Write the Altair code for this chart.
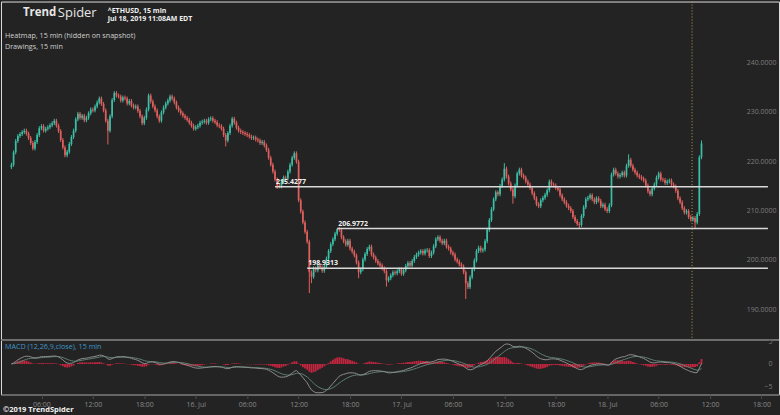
import altair as alt
import pandas as pd

# ---------------- data ----------------
first_hour = 2.5          # hours after 15 Jul 00:00 (EDT) of the first 15-min candle
step_hours = 0.25
first_open = 219.4
closes = [
    219.9, 222.4, 224.7, 225.7, 226.1, 226.5, 226.8, 226.2, 225.3, 224.3,
    223.2, 224.5, 225.9, 227.3, 227.7, 226.8, 227.2, 227.5, 227.9, 228.3,
    228.8, 227.8, 226.7, 224.9, 223.4, 221.8, 222.5, 224.1, 225.5, 226.8,
    229.1, 230.2, 229.4, 229.8, 228.9, 229.4, 230.3, 231.1, 230.9, 231.7,
    232.5, 233.3, 232.2, 230.9, 228.8, 226.8, 229.7, 233.0, 234.4, 233.9,
    233.7, 232.9, 233.5, 233.3, 232.3, 232.8, 231.9, 231.5, 231.7, 230.8,
    229.7, 228.3, 229.4, 231.1, 233.9, 232.7, 231.7, 230.9, 229.7, 228.8,
    230.5, 231.5, 232.3, 232.9, 233.7, 233.3, 232.5, 231.5, 230.9, 230.3,
    229.8, 229.4, 229.0, 228.4, 227.8, 227.2, 227.5, 227.8, 228.4, 228.6,
    228.8, 228.4, 229.1, 229.3, 228.8, 228.5, 227.9, 227.7, 227.2, 225.9,
    224.8, 226.3, 227.8, 229.2, 228.4, 227.4, 226.8, 226.5, 226.3, 226.1,
    225.9, 225.6, 225.3, 225.4, 225.0, 224.8, 224.3, 224.5, 223.8, 222.9,
    221.3, 219.9, 218.5, 216.9, 215.7, 215.5, 216.4, 217.3, 217.1, 218.5,
    219.9, 221.3, 222.2, 220.5, 212.7, 210.4, 208.2, 206.3, 204.3, 198.1,
    197.2, 198.9, 198.5, 199.5, 199.1, 198.4, 199.3, 200.9, 202.4, 203.8,
    204.8, 205.9, 206.9, 206.7, 205.2, 204.4, 203.7, 204.5, 202.9, 202.3,
    201.5, 200.1, 198.1, 198.7, 200.7, 201.8, 202.8, 203.3, 201.7, 201.1,
    200.4, 199.9, 199.5, 198.9, 198.3, 196.5, 196.9, 197.5, 198.1, 197.9,
    198.3, 198.7, 197.8, 198.5, 199.4, 200.0, 199.5, 200.4, 201.2, 201.7,
    202.1, 202.4, 201.9, 202.5, 202.6, 201.4, 202.1, 203.4, 204.8, 205.2,
    204.5, 204.0, 204.5, 203.3, 202.9, 202.1, 201.7, 200.7, 200.3, 199.7,
    199.3, 198.1, 195.9, 195.1, 197.1, 198.7, 200.5, 202.4, 203.1, 202.5,
    202.7, 204.4, 206.7, 208.7, 210.9, 212.9, 214.3, 213.9, 215.6, 216.9,
    219.1, 217.5, 216.1, 214.9, 213.5, 215.7, 218.1, 218.9, 217.7, 217.3,
    216.5, 215.9, 215.2, 214.1, 213.1, 211.9, 211.5, 212.7, 213.2, 213.8,
    214.7, 216.5, 215.9, 215.7, 215.2, 214.9, 213.7, 212.9, 212.3, 211.6,
    211.1, 210.5, 209.3, 208.5, 207.9, 207.7, 209.5, 211.3, 212.9, 213.2,
    213.7, 212.9, 212.3, 213.1, 212.6, 211.5, 211.8, 210.9, 210.5, 211.7,
    217.9, 218.9, 218.1, 217.5, 217.8, 218.3, 217.7, 219.7, 220.9, 219.7,
    218.9, 218.3, 217.7, 217.4, 217.1, 216.7, 215.7, 214.5, 213.9, 215.1,
    215.9, 217.3, 218.1, 216.9, 216.8, 216.2, 216.5, 216.7, 215.9, 215.5,
    214.6, 213.1, 212.3, 211.1, 210.2, 210.5, 209.3, 208.8, 209.1, 208.2,
    209.9, 221.4, 224.2,
]
wick = 0.4
high_override = {48: 234.8, 134: 220.9, 152: 207.0, 230: 220.2, 288: 222.0, 322: 224.8}
low_override = {45: 224.0, 100: 223.6, 124: 215.0, 139: 193.9, 140: 195.9, 162: 196.9,
                175: 195.2, 212: 192.7, 234: 212.0, 265: 207.0, 319: 207.0}

level_values = [215.4277, 206.9772, 198.9313]
level_start_hours = [33.25, 40.5, 37.0]
level_end_hour = 90.75
now_hour = 81.9

price_ticks = [190, 200, 210, 220, 230, 240]
macd_ticks = [-5, 0, 5]
time_ticks = [6, 12, 18, 24, 30, 36, 42, 48, 54, 60, 66, 72, 78, 84, 90]
time_labels = ["06:00", "12:00", "18:00", "16. Jul", "06:00", "12:00", "18:00", "17. Jul",
               "06:00", "12:00", "18:00", "18. Jul", "06:00", "12:00", "18:00"]

# ---------------- tables ----------------
opens = [first_open] + closes[:-1]
rows = []
for i, (o, c) in enumerate(zip(opens, closes)):
    rows.append({
        "h": first_hour + step_hours * i,
        "open": o, "close": c,
        "high": high_override.get(i, max(o, c) + wick),
        "low": low_override.get(i, min(o, c) - wick),
        "dir": "up" if c >= o else "down",
    })
candles = pd.DataFrame(rows)

cs = pd.Series(closes)
macd = cs.ewm(span=12, adjust=False).mean() - cs.ewm(span=26, adjust=False).mean()
signal = macd.ewm(span=9, adjust=False).mean()
macd_df = pd.DataFrame({"h": candles["h"], "macd": macd, "signal": signal, "hist": macd - signal})

levels = pd.DataFrame({"level": level_values, "start": level_start_hours,
                       "end": [level_end_hour] * 3,
                       "label": [f"{v:.4f}" for v in level_values]})

BG = "#232323"
UP = "#3bbfa6"
DOWN = "#e0605e"
FONT = "Open Sans"
W = 780
H_TOP = 339
H_BOT = 55
x_dom = [1.865, 91.46]

xs = alt.Scale(domain=x_dom, nice=False, zero=False)
ys = alt.Scale(domain=[184.46, 252.95], nice=False, zero=False)
price_axis = alt.Axis(orient="right", values=price_ticks, format=".4f", labelAlign="right",
                      labelBaseline="bottom", labelPadding=-3, ticks=False, tickSize=0,
                      domain=False, grid=False, labelColor="#7c7c7c", labelFontSize=7,
                      labelFont=FONT, title=None)
color = alt.Color("dir:N", scale=alt.Scale(domain=["up", "down"], range=[UP, DOWN]), legend=None)

one = pd.DataFrame({"k": [0]})

def label(txt, x, y, size=7.5, weight="normal", col="#d6d6d6"):
    return alt.Chart(one).mark_text(text=txt, align="left", baseline="middle", fontSize=size,
                                    fontWeight=weight, color=col, font=FONT).encode(
        x=alt.value(x), y=alt.value(y))

wicks = alt.Chart(candles).mark_rule(strokeWidth=1, clip=True).encode(
    x=alt.X("h:Q", scale=xs, axis=None),
    y=alt.Y("low:Q", scale=ys, axis=price_axis, title=None),
    y2="high:Q", color=color)
bodies = alt.Chart(candles).mark_bar(size=1.7, clip=True).encode(
    x=alt.X("h:Q", scale=xs, axis=None),
    y=alt.Y("open:Q", scale=ys, axis=price_axis, title=None),
    y2="close:Q", color=color)
level_lines = alt.Chart(levels).mark_rule(color="#d9d9d9", strokeWidth=1.4).encode(
    x=alt.X("start:Q", scale=xs, axis=None), x2="end:Q",
    y=alt.Y("level:Q", scale=ys, axis=price_axis, title=None))
level_text = alt.Chart(levels).mark_text(align="left", baseline="middle", dx=1, dy=-5,
                                         fontSize=7, fontWeight="bold", color="#f2f2f2",
                                         font=FONT).encode(
    x=alt.X("start:Q", scale=xs, axis=None),
    y=alt.Y("level:Q", scale=ys, axis=price_axis, title=None), text="label:N")
now_line = alt.Chart(pd.DataFrame({"h": [now_hour]})).mark_rule(
    color="#b3a24e", strokeDash=[1, 2], strokeWidth=1).encode(
    x=alt.X("h:Q", scale=xs, axis=None))

top = alt.layer(
    wicks, bodies, level_lines, level_text, now_line,
    label("Trend", 22, 12, size=11.5, weight="bold", col="#e6e6e6"),
    label("Spider", 57, 12, size=13, weight="normal", col="#e6e6e6"),
    label("^ETHUSD, 15 min", 107, 9.5, size=7, weight="bold", col="#f0f0f0"),
    label("Jul 18, 2019 11:08AM EDT", 107, 17.5, size=7, weight="bold", col="#f0f0f0"),
    label("Heatmap, 15 min (hidden on snapshot)", 4, 35, size=7.2, col="#d0d0d0"),
    label("Drawings, 15 min", 4, 46, size=7.2, col="#d0d0d0"),
).properties(width=W, height=H_TOP)

# ---------------- MACD panel ----------------
ms = alt.Scale(domain=[-6.72, 5.32], nice=False, zero=False)
macd_axis = alt.Axis(orient="right", values=macd_ticks, format="d", labelAlign="right",
                     labelBaseline="middle", labelPadding=-7, ticks=False, tickSize=0,
                     domain=False, grid=False, labelColor="#7c7c7c", labelFontSize=7,
                     labelFont=FONT, title=None)
label_js = "[" + ",".join(f"'{t}'" for t in time_labels) + "]"
time_axis = alt.Axis(values=time_ticks, labelExpr=f"{label_js}[datum.value/6-1]",
                     domainColor="#4c4c4c", tickColor="#4c4c4c", tickSize=4, labelPadding=2,
                     labelColor="#8a8a8a", labelFontSize=7, labelFont=FONT, grid=False,
                     title=None, labelFlush=False)

hist = alt.Chart(macd_df).mark_bar(size=1.8, color="#c42640", clip=True).encode(
    x=alt.X("h:Q", scale=xs, axis=time_axis),
    y=alt.Y("hist:Q", scale=ms, axis=macd_axis, title=None),
    y2=alt.datum(0))
macd_line = alt.Chart(macd_df).mark_line(color="#8e8e8e", strokeWidth=1, clip=True).encode(
    x=alt.X("h:Q", scale=xs, axis=time_axis),
    y=alt.Y("macd:Q", scale=ms, axis=macd_axis, title=None))
signal_line = alt.Chart(macd_df).mark_line(color="#5e7f70", strokeWidth=1, clip=True).encode(
    x=alt.X("h:Q", scale=xs, axis=time_axis),
    y=alt.Y("signal:Q", scale=ms, axis=macd_axis, title=None))
sep = alt.Chart(one).mark_rule(color="#3c3c3c", strokeWidth=1).encode(
    x=alt.value(0), x2=alt.value(W), y=alt.value(0.5))

bottom = alt.layer(
    sep, hist, signal_line, macd_line,
    label("MACD (12,26,9,close), 15 min", 4, 7, size=7.2, col="#3f95c9"),
    label("\u00a92019 TrendSpider", 2, 70.5, size=7.5, weight="bold", col="#f0f0f0"),
).properties(width=W, height=H_BOT)

chart = alt.vconcat(top, bottom, spacing=0, bounds="flush").properties(
    padding=0, background=BG
).configure_view(stroke=None).configure(font=FONT)

chart.save("out.html", embed_options={"renderer": "svg", "actions": False})
